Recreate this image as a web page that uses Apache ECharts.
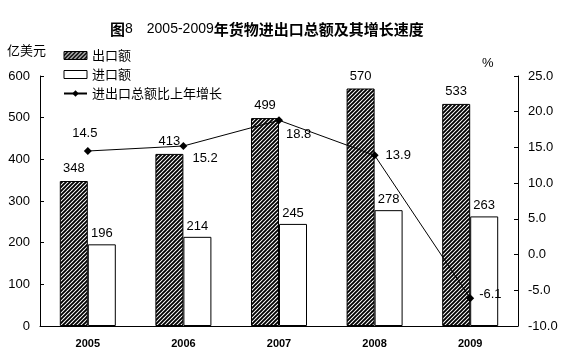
<!DOCTYPE html>
<html><head><meta charset="utf-8">
<script src="https://cdn.jsdelivr.net/npm/echarts@6/dist/echarts.min.js"></script>
<style>html,body{margin:0;padding:0;background:#fff}#c{width:565px;height:360px}</style>
</head><body><div id="c"></div>
<script>
const years = ['2005','2006','2007','2008','2009'];
const exportVals = [348, 413, 499, 570, 533];
const importVals = [196, 214, 245, 278, 263];
const growthVals = [14.5, 15.2, 18.8, 13.9, -6.1];
const leftTicks = [0, 600, 100];
const rightTicks = [-10, 25, 5];

function hatch() {
  const c = document.createElement('canvas');
  c.width = 4; c.height = 4;
  const g = c.getContext('2d');
  g.fillStyle = '#fff'; g.fillRect(0,0,4,4);
  g.strokeStyle = '#000'; g.lineWidth = 1.9;
  g.beginPath();
  g.moveTo(-1,5); g.lineTo(5,-1);
  g.moveTo(-1,1); g.lineTo(1,-1);
  g.moveTo(3,5); g.lineTo(5,3);
  g.stroke();
  return c;
}
const pat = {image: hatch(), repeat: 'repeat'};
const numFont = 'Liberation Sans, Arial, sans-serif';
const cjk = 'Noto Sans CJK SC, sans-serif';
const labelPos = [['top', [-3,-2]], ['right', [0,12]], ['right', [-2,14]], ['right', [2,0]], ['right', [0,-4]]];

const chart = echarts.init(document.getElementById('c'));
chart.setOption({
  animation: false,
  title: {
    text: '{b|图}{n|8　2005-2009}{b|年货物进出口总额及其增长速度}',
    left: 105, top: 17,
    textStyle: {fontWeight: 'normal', rich: {
      b: {fontFamily: cjk, fontWeight: 'bold', fontSize: 15, color: '#000'},
      n: {fontFamily: numFont, fontWeight: 'normal', fontSize: 14, color: '#000'}
    }}
  },
  graphic: [
    {type: 'text', left: 7, top: 44, style: {text: '亿美元', font: '13px ' + cjk, fill: '#000'}},
    {type: 'text', left: 482, top: 57, style: {text: '%', font: '13px ' + numFont, fill: '#000'}}
  ],
  legend: {
    orient: 'vertical', left: 58, top: 43, itemWidth: 23, itemHeight: 8, itemGap: 4,
    textStyle: {fontFamily: cjk, fontSize: 13, color: '#000', lineHeight: 15},
    data: [
      {name: '出口额', icon: 'rect', itemStyle: {color: pat, borderColor: '#000', borderWidth: 1}},
      {name: '进口额', icon: 'rect', itemStyle: {color: '#fff', borderColor: '#000', borderWidth: 1}},
      {name: '进出口总额比上年增长'}
    ]
  },
  grid: {left: 40, right: 47, top: 76, bottom: 34},
  xAxis: {
    type: 'category', data: years,
    axisLine: {lineStyle: {color: '#000', width: 1}},
    axisTick: {inside: true, length: 4, lineStyle: {color: '#000'}},
    axisLabel: {fontFamily: numFont, fontSize: 11, fontWeight: 'bold', color: '#000', margin: 12}
  },
  yAxis: [
    {type: 'value', min: leftTicks[0], max: leftTicks[1], interval: leftTicks[2],
     axisLine: {show: true, lineStyle: {color: '#000'}},
     axisTick: {show: true, inside: true, length: 4, lineStyle: {color: '#000'}},
     splitLine: {show: false},
     axisLabel: {fontFamily: numFont, fontSize: 13, color: '#000', margin: 10}},
    {type: 'value', min: rightTicks[0], max: rightTicks[1], interval: rightTicks[2],
     axisLine: {show: true, lineStyle: {color: '#000'}},
     axisTick: {show: true, inside: true, length: 4, lineStyle: {color: '#000'}},
     splitLine: {show: false},
     axisLabel: {fontFamily: numFont, fontSize: 13, color: '#000', margin: 10,
       formatter: v => v.toFixed(1)}}
  ],
  series: [
    {name: '出口额', type: 'bar', data: exportVals, barWidth: 28, barGap: '0%',
     itemStyle: {color: pat, borderColor: '#000', borderWidth: 1},
     label: {show: true, position: 'top', distance: 6, fontFamily: numFont, fontSize: 13, color: '#000'}},
    {name: '进口额', type: 'bar', data: importVals, barWidth: 28, barGap: '0%',
     itemStyle: {color: '#fff', borderColor: '#000', borderWidth: 1},
     label: {show: true, position: 'top', distance: 4, fontFamily: numFont, fontSize: 13, color: '#000'}},
    {name: '进出口总额比上年增长', type: 'line', yAxisIndex: 1,
     data: growthVals.map((v, i) => ({value: v, label: {position: labelPos[i][0], offset: labelPos[i][1]}})),
     symbol: 'diamond', symbolSize: 8,
     lineStyle: {color: '#000', width: 1}, itemStyle: {color: '#000'},
     label: {show: true, fontFamily: numFont, fontSize: 13, color: '#000', formatter: p => p.value.toFixed(1)}}
  ]
});
</script></body></html>
